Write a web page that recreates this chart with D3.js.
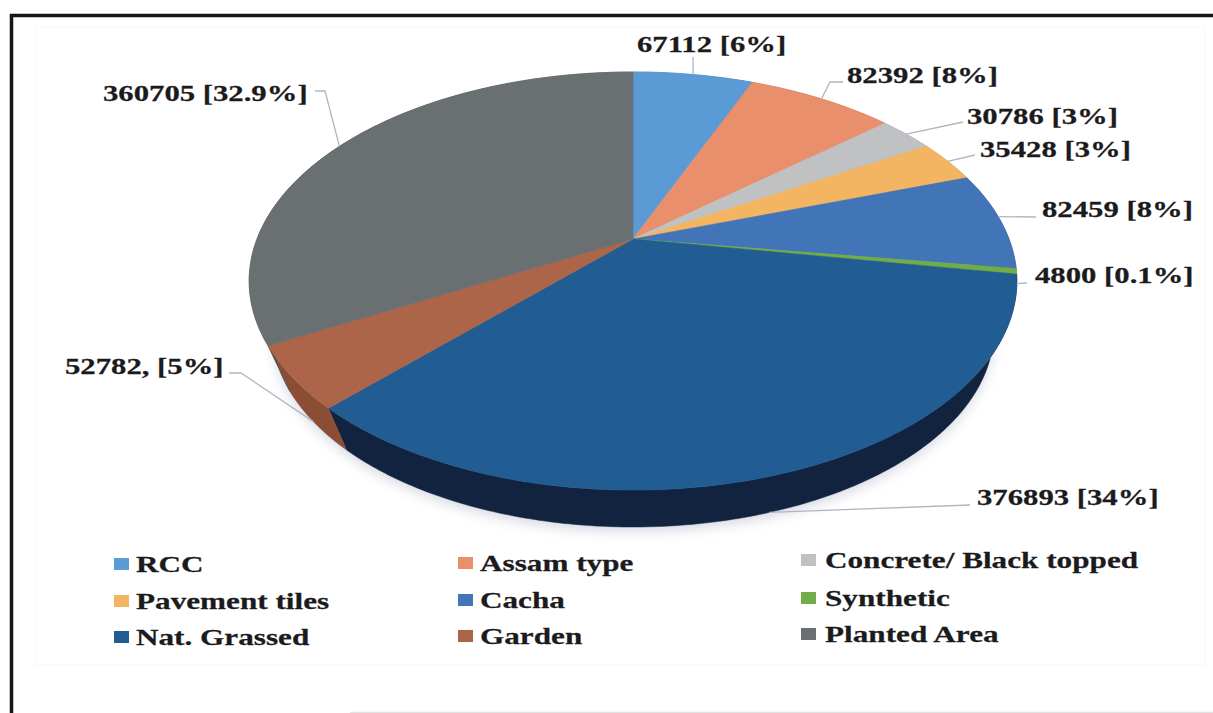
<!DOCTYPE html>
<html>
<head>
<meta charset="utf-8">
<script src="https://cdn.jsdelivr.net/npm/d3@7"></script>
<style>
  html, body { margin: 0; padding: 0; background: #fff; }
  svg { display: block; }
  text { font-family: "Liberation Serif", serif; font-weight: bold; fill: #1b1b1d; stroke: #1b1b1d; stroke-width: 0.25; }
</style>
</head>
<body>
<svg id="chart" width="1213" height="713"></svg>
<script>
// Surface cover areas and their share labels
const categories = ["RCC", "Assam type", "Concrete/ Black topped", "Pavement tiles", "Cacha",
                    "Synthetic", "Nat. Grassed", "Garden", "Planted Area"];
const areas = [67112, 82392, 30786, 35428, 82459, 4800, 376893, 52782, 360705];
const labels = ["67112 [6%]", "82392 [8%]", "30786 [3%]", "35428 [3%]", "82459 [8%]",
                "4800 [0.1%]", "376893 [34%]", "52782, [5%]", "360705 [32.9%]"];
const topColors = ["#5b9bd5", "#e98f6c", "#bfc1c3", "#f4b563", "#4274b8",
                   "#70ad47", "#215c93", "#ad6549", "#6a6f72"];
const sideColors = ["#3f6d96", "#a3644b", "#868889", "#ab7f45", "#2e5181",
                    "#4e7932", "#12233f", "#8b4d34", "#4a4e50"];

// Label anchors: left edge and baseline
const labelX = [637, 847, 967, 980, 1042, 1035, 977, 65, 103];
const labelY = [52, 83, 124, 157, 217, 283, 505, 374, 101];
// Leader elbow beside each label and the end nearest the text
const elbowX = [693, 830, 963, 975, 1036, 1027, 970, 241, 325];
const elbowY = [57, 82, 122, 155, 217, 283, 505, 373, 91];
const tailX = [693, 843, 963, 975, 1036, 1027, 970, 229, 315];
const tailY = [57, 82, 122, 155, 217, 283, 505, 373, 91];
const leaderOnLowerRim = [false, false, false, false, false, false, true, true, false];
// These leaders leave the rim level with their label
const leaderLevel = [false, false, false, false, true, true, false, false, false];

// Legend layout: three columns, rows drift slightly upward to the right
const legendSwatchX = [114, 458, 801];
const legendTextX = [136, 480, 825];
const legendBaselines = [[572, 571, 568], [609, 608, 606], [645, 644, 642]];

const labelStretch = 1.28;
const legendStretch = 1.3;
const labelSize = 24;

const svg = d3.select("#chart");

// Perspective disc: apex of the pie, horizontal and vertical reach, foreshortening
const apexX = 633, apexY = 239, reachX = 376, reachY = 200.6, foreshorten = 0.201;
const depth = 52, lowerScale = 0.94;

// Projects pie angle (clockwise from top) to the rim on the page
function project(angle, lower = false) {
  const u = Math.sin(angle), v = -Math.cos(angle);
  const w = 1 - foreshorten * v;
  const s = lower ? lowerScale : 1;
  return [apexX + s * reachX * u / w,
          apexY + (lower ? depth : 0) + s * reachY * v / w];
}

const line = d3.line();
const pie = d3.pie().value(d => d).sort(null);
const arcs = pie(areas);

function rimPoints(a0, a1, lower) {
  const n = Math.max(2, Math.ceil((a1 - a0) / 0.01));
  return d3.range(n + 1).map(i => project(a0 + (a1 - a0) * i / n, lower));
}

// Point on the right half of the rim at a given page height
function rimAtHeight(y) {
  const pts = rimPoints(0, Math.PI, false);
  return pts[d3.leastIndex(pts, (a, b) => Math.abs(a[1] - y) - Math.abs(b[1] - y))];
}

// Page frame
const frame = svg.append("g");
frame.append("rect").attr("x", 36).attr("y", 27).attr("width", 1169).attr("height", 638)
  .attr("fill", "#ffffff").attr("stroke", "#f6f7f9").attr("stroke-width", 1);
frame.append("path")
  .attr("d", "M350,712.5 H1213")
  .attr("fill", "none").attr("stroke", "#e2e2e2").attr("stroke-width", 1.5);
frame.append("path")
  .attr("d", "M11.5,713 V15.5 H1213")
  .attr("fill", "none").attr("stroke", "#16161a").attr("stroke-width", 3.5);

// Soft shadow under the front of the disc
const defs = svg.append("defs");
defs.append("filter").attr("id", "soft")
  .attr("x", "-10%").attr("y", "-10%").attr("width", "120%").attr("height", "120%")
  .append("feGaussianBlur").attr("stdDeviation", 6);
svg.append("path")
  .attr("d", line(rimPoints(0, 2 * Math.PI, true).map(p => [p[0], p[1] + 5])) + "Z")
  .attr("fill", "#b9bfd0").attr("opacity", 0.55).attr("filter", "url(#soft)");

// Outer wall, visible only along the front of the disc
const wall = svg.append("g");
arcs.forEach((d, i) => {
  const top = rimPoints(d.startAngle, d.endAngle, false);
  const bottom = rimPoints(d.startAngle, d.endAngle, true).reverse();
  wall.append("path")
    .attr("d", line(top.concat(bottom)) + "Z")
    .attr("fill", sideColors[i]).attr("stroke", sideColors[i]).attr("stroke-width", 0.5);
});

// Top face wedges
svg.append("g").selectAll("path").data(arcs).join("path")
  .attr("d", d => line([[apexX, apexY]].concat(rimPoints(d.startAngle, d.endAngle, false))) + "Z")
  .attr("fill", (d, i) => topColors[i])
  .attr("stroke", (d, i) => topColors[i]).attr("stroke-width", 0.6);

// Leader lines from each wedge's mid angle to its label
svg.append("g").selectAll("path").data(arcs).join("path")
  .attr("d", (d, i) => {
    const mid = (d.startAngle + d.endAngle) / 2;
    const start = leaderLevel[i] ? rimAtHeight(elbowY[i]) : project(mid, leaderOnLowerRim[i]);
    return line([start, [elbowX[i], elbowY[i]], [tailX[i], tailY[i]]]);
  })
  .attr("fill", "none").attr("stroke", "#aeb6c4").attr("stroke-width", 1.3);

// Value labels
svg.append("g").selectAll("text").data(labels).join("text")
  .attr("transform", (d, i) => `translate(${labelX[i]},${labelY[i]}) scale(${labelStretch},1)`)
  .attr("font-size", labelSize)
  .text(d => d);

// Legend
const legend = svg.append("g");
categories.forEach((name, i) => {
  const col = i % 3, row = Math.floor(i / 3);
  const base = legendBaselines[row][col];
  legend.append("rect")
    .attr("x", legendSwatchX[col]).attr("y", base - 14)
    .attr("width", 15).attr("height", 12)
    .attr("fill", topColors[i]);
  legend.append("text")
    .attr("transform", `translate(${legendTextX[col]},${base}) scale(${legendStretch},1)`)
    .attr("font-size", labelSize)
    .text(name);
});
</script>
</body>
</html>
